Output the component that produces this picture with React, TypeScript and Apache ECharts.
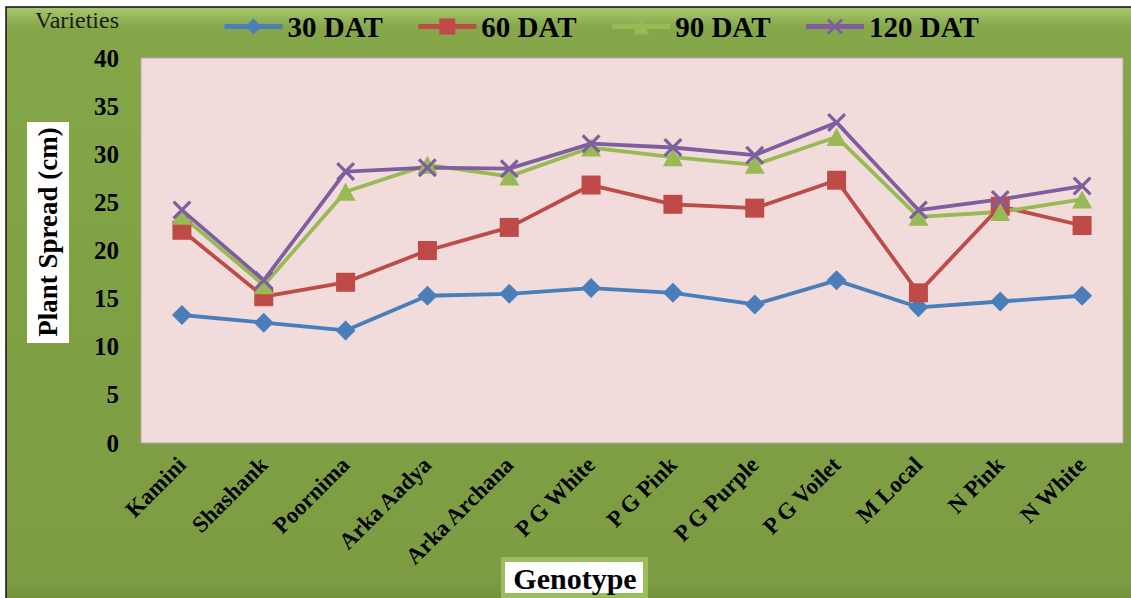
import React, { useEffect, useRef } from "react";
import * as echarts from "echarts";

// Genotypes on the category axis
const categories = [
  "Kamini",
  "Shashank",
  "Poornima",
  "Arka Aadya",
  "Arka Archana",
  "P G White",
  "P G Pink",
  "P G Purple",
  "P G Voilet",
  "M Local",
  "N Pink",
  "N White",
];

// Plant spread (cm) at each stage (days after transplanting)
const dat30 = [13.3, 12.5, 11.7, 15.3, 15.5, 16.1, 15.6, 14.4, 16.9, 14.1, 14.7, 15.3];
const dat60 = [22.1, 15.2, 16.7, 20.0, 22.4, 26.8, 24.8, 24.4, 27.3, 15.6, 24.6, 22.6];
const dat90 = [23.6, 16.4, 26.1, 28.9, 27.7, 30.7, 29.7, 28.9, 31.8, 23.5, 24.0, 25.3];
const dat120 = [24.2, 16.9, 28.2, 28.6, 28.5, 31.1, 30.7, 29.9, 33.3, 24.2, 25.3, 26.7];

const seriesNames = ["30 DAT", "60 DAT", "90 DAT", "120 DAT"];
const seriesColors = ["#4a7ebb", "#be4b48", "#98b954", "#7d5fa0"];

const yMin = 0;
const yMax = 40;
const yStep = 5;

const SERIF = "Liberation Serif";

// Filled cross used for the 120 DAT markers
const crossSymbol =
  "path://M0,1.2 L1.2,0 L5,3.8 L8.8,0 L10,1.2 L6.2,5 L10,8.8 L8.8,10 L5,6.2 L1.2,10 L0,8.8 L3.8,5 Z";

export default function App() {
  const ref = useRef<HTMLDivElement>(null);

  useEffect(() => {
    if (!ref.current) return;
    const chart = echarts.init(ref.current, null, { renderer: "svg" });

    const values = [dat30, dat60, dat90, dat120];
    const symbols = ["diamond", "rect", "triangle", crossSymbol];
    const sizes = [[20, 20], [19, 19], [20, 18], [19, 19]];

    chart.setOption({
      animation: false,
      backgroundColor: "#ffffff",
      textStyle: { fontFamily: SERIF },
      graphic: [
        {
          type: "rect",
          z: -10,
          shape: { x: 6, y: 7, width: 1140, height: 600 },
          style: {
            fill: new echarts.graphic.LinearGradient(0, 0, 0, 1, [
              { offset: 0, color: "#a9c76d" },
              { offset: 0.035, color: "#86a64a" },
              { offset: 0.5, color: "#80a044" },
              { offset: 0.95, color: "#7e9d43" },
              { offset: 1, color: "#718e3b" },
            ]),
            stroke: "#111111",
            lineWidth: 1.5,
          },
        },
        {
          type: "text",
          left: 35,
          top: 8,
          style: {
            text: "Varieties",
            fontFamily: SERIF,
            fontSize: 24,
            fill: "#1a1a1a",
          },
        },
        {
          type: "rect",
          shape: { x: 27, y: 122, width: 42, height: 221 },
          style: { fill: "#ffffff" },
        },
        {
          type: "text",
          x: 48,
          y: 232,
          rotation: Math.PI / 2,
          style: {
            text: "Plant Spread (cm)",
            fontFamily: SERIF,
            fontSize: 27,
            fontWeight: "bold",
            fill: "#000000",
            align: "center",
            verticalAlign: "middle",
          },
        },
        {
          type: "rect",
          shape: { x: 501, y: 557, width: 147, height: 45 },
          style: { fill: "#9cbd5e" },
        },
        {
          type: "rect",
          shape: { x: 505, y: 562, width: 138, height: 31 },
          style: { fill: "#ffffff" },
        },
        {
          type: "text",
          x: 575,
          y: 578,
          style: {
            text: "Genotype",
            fontFamily: SERIF,
            fontSize: 30,
            fontWeight: "bold",
            fill: "#000000",
            align: "center",
            verticalAlign: "middle",
          },
        },
      ],
      legend: {
        left: 217,
        top: 7,
        itemWidth: 58,
        itemHeight: 20,
        itemGap: 33,
        data: seriesNames,
        lineStyle: { width: 5 },
        textStyle: {
          fontFamily: SERIF,
          fontSize: 29,
          fontWeight: "bold",
          color: "#000000",
        },
      },
      grid: {
        left: 141,
        top: 58,
        right: 8,
        bottom: 155,
        show: true,
        backgroundColor: "#f2dcdb",
        borderColor: "#b9a4a8",
        borderWidth: 1,
      },
      xAxis: {
        type: "category",
        data: categories,
        boundaryGap: true,
        axisLine: { show: false },
        axisTick: { show: false },
        axisLabel: {
          rotate: 45,
          margin: 18,
          interval: 0,
          fontFamily: SERIF,
          fontSize: 23,
          fontWeight: "bold",
          color: "#000000",
        },
      },
      yAxis: {
        type: "value",
        min: yMin,
        max: yMax,
        interval: yStep,
        axisLine: { show: false },
        axisTick: { show: false },
        splitLine: { show: false },
        axisLabel: {
          margin: 22,
          fontFamily: SERIF,
          fontSize: 25,
          fontWeight: "bold",
          color: "#000000",
        },
      },
      series: seriesNames.map((name, i) => ({
        name,
        type: "line",
        data: values[i],
        symbol: symbols[i],
        symbolSize: sizes[i],
        itemStyle: { color: seriesColors[i] },
        lineStyle: { color: seriesColors[i], width: 3.8 },
        emphasis: { disabled: true },
      })),
    });

    return () => chart.dispose();
  }, []);

  return (
    <div
      ref={ref}
      style={{ position: "fixed", left: 0, top: 0, width: 1131, height: 598 }}
    />
  );
}
